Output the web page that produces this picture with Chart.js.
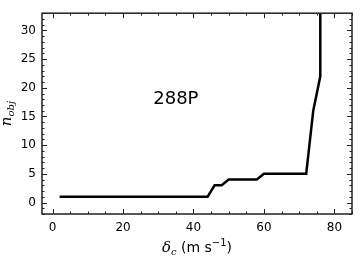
<!DOCTYPE html>
<html>
<head>
<meta charset="utf-8">
<script src="https://cdn.jsdelivr.net/npm/chart.js@4"></script>
<style>
html,body{margin:0;padding:0;background:#fff;}
#wrap{width:360px;height:256px;position:relative;}
</style>
</head>
<body>
<div id="wrap"><canvas id="c" width="360" height="256"></canvas></div>
<script>
// ---- data ----
const deltaC = [2, 44, 46, 48, 50, 58, 60, 72, 74, 76, 76];
const nObj   = [1, 1, 3, 3, 4, 4, 5, 5, 16, 22, 40];
const xTicks = [0, 20, 40, 60, 80];
const yTicks = [0, 5, 10, 15, 20, 25, 30];
const xMinorStep = 5;
const yMinorStep = 1;
const labelText = "288P";
const labelPos = [35, 18.3];

const points = deltaC.map((x, i) => ({x: x, y: nObj[i]}));
const FRAME = '#222';

const framePlugin = {
  id: 'frame',
  afterDraw(chart) {
    const ctx = chart.ctx, a = chart.chartArea;
    const xs = chart.scales.x, ys = chart.scales.y;
    ctx.save();
    ctx.strokeStyle = FRAME;
    ctx.lineWidth = 1;
    // ticks inward on all four sides
    const tick = (x1, y1, x2, y2) => { ctx.beginPath(); ctx.moveTo(x1, y1); ctx.lineTo(x2, y2); ctx.stroke(); };
    for (let v = Math.ceil(xs.min / xMinorStep) * xMinorStep; v <= xs.max; v += xMinorStep) {
      const px = Math.round(xs.getPixelForValue(v)) + 0.5;
      const len = xTicks.includes(v) ? 5 : 2.5;
      tick(px, a.bottom, px, a.bottom - len);
      tick(px, a.top, px, a.top + len);
    }
    for (let v = Math.ceil(ys.min / yMinorStep) * yMinorStep; v <= ys.max; v += yMinorStep) {
      const py = Math.round(ys.getPixelForValue(v)) + 0.5;
      const len = yTicks.includes(v) ? 5 : 2.5;
      tick(a.left, py, a.left + len, py);
      tick(a.right, py, a.right - len, py);
    }
    ctx.lineWidth = 1.5;
    ctx.strokeRect(a.left, a.top, a.right - a.left, a.bottom - a.top);

    // annotation
    ctx.fillStyle = '#000';
    ctx.font = '18px "DejaVu Sans"';
    ctx.textAlign = 'center';
    ctx.textBaseline = 'alphabetic';
    ctx.fillText(labelText, xs.getPixelForValue(labelPos[0]), ys.getPixelForValue(labelPos[1]) + 6.5);

    // x-axis title: δ_c (m s^-1)
    const parts = [
      {t: 'δ', f: 'italic 15px "DejaVu Serif"', dy: 0},
      {t: 'c', f: 'italic 10px "DejaVu Serif"', dy: 3},
      {t: ' (m s', f: '14px "DejaVu Sans"', dy: 0},
      {t: '−1', f: '10px "DejaVu Sans"', dy: -6},
      {t: ')', f: '14px "DejaVu Sans"', dy: 0}
    ];
    let total = 0;
    parts.forEach(p => { ctx.font = p.f; p.w = ctx.measureText(p.t).width; total += p.w; });
    let x0 = (a.left + a.right) / 2 - total / 2;
    const base = 251.5;
    ctx.textAlign = 'left';
    parts.forEach(p => { ctx.font = p.f; ctx.fillText(p.t, x0, base + p.dy); x0 += p.w; });

    // y-axis title: n_obj (rotated)
    const yp = [
      {t: 'n', f: 'italic 15px "DejaVu Serif"', dy: 0},
      {t: 'obj', f: 'italic 10px "DejaVu Serif"', dy: 3}
    ];
    total = 0;
    yp.forEach(p => { ctx.font = p.f; p.w = ctx.measureText(p.t).width; total += p.w; });
    ctx.translate(11, (a.top + a.bottom) / 2);
    ctx.rotate(-Math.PI / 2);
    x0 = -total / 2;
    yp.forEach(p => { ctx.font = p.f; ctx.fillText(p.t, x0, p.dy); x0 += p.w; });
    ctx.restore();
  }
};

new Chart(document.getElementById('c'), {
  type: 'line',
  data: {
    datasets: [{
      data: points,
      borderColor: '#000',
      borderWidth: 2.5,
      pointRadius: 0,
      tension: 0,
      fill: false
    }]
  },
  options: {
    responsive: false,
    animation: false,
    events: [],
    layout: {padding: {top: 7, right: 8, left: 0, bottom: 0}},
    plugins: {legend: {display: false}, tooltip: {enabled: false}},
    scales: {
      x: {
        type: 'linear',
        min: -3, max: 85,
        afterBuildTicks: s => { s.ticks = xTicks.map(v => ({value: v})); },
        afterFit: s => { s.height = 42; },
        grid: {display: false, drawTicks: false},
        border: {display: false},
        ticks: {color: '#000', font: {family: 'DejaVu Sans', size: 12}, padding: 7, maxRotation: 0}
      },
      y: {
        type: 'linear',
        min: -2, max: 33,
        afterBuildTicks: s => { s.ticks = yTicks.map(v => ({value: v})); },
        afterFit: s => { s.width = 42; },
        grid: {display: false, drawTicks: false},
        border: {display: false},
        ticks: {color: '#000', font: {family: 'DejaVu Sans', size: 12}, padding: 6}
      }
    }
  },
  plugins: [framePlugin]
});
</script>
</body>
</html>
